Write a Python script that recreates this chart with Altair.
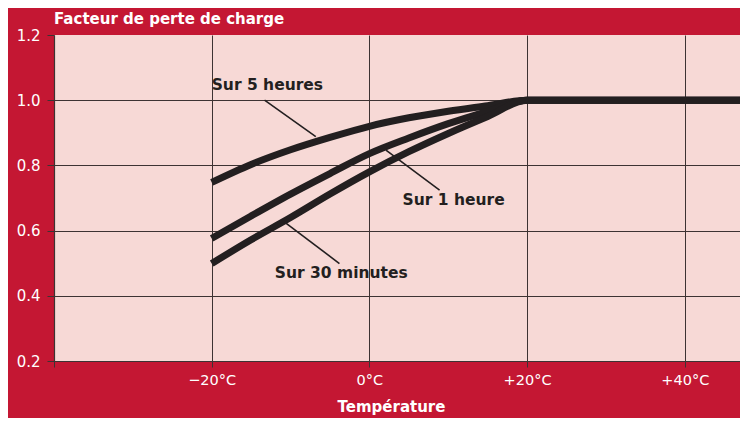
import altair as alt
import pandas as pd

# Data
temps = [-20, -15, -10, -5, 0, 5, 10, 15, 20, 47]
sur_5_heures = [0.748, 0.803, 0.848, 0.886, 0.920, 0.946, 0.966, 0.983, 1.0, 1.0]
sur_1_heure = [0.576, 0.645, 0.712, 0.775, 0.836, 0.884, 0.928, 0.966, 1.0, 1.0]
sur_30_minutes = [0.499, 0.572, 0.640, 0.712, 0.780, 0.842, 0.898, 0.950, 1.0, 1.0]

label_texts = ["Sur 5 heures", "Sur 1 heure", "Sur 30 minutes"]
label_x = [-20.0, 4.2, -12.0]
label_y = [1.046, 0.693, 0.469]

leader_x1 = [-13.3, 2.1, -10.8]
leader_y1 = [1.0, 0.847, 0.627]
leader_x2 = [-6.8, 8.9, -3.8]
leader_y2 = [0.888, 0.724, 0.499]

x_ticks = [-40, -20, 0, 20, 40]
y_ticks = [0.2, 0.4, 0.6, 0.8, 1.0, 1.2]

RED = "#c41733"
PINK = "#f7d9d6"
INK = "#231f20"
GRID = "#3d3333"
FONT = "DejaVu Sans"

rows = []
for name, vals in [("5h", sur_5_heures), ("1h", sur_1_heure), ("30m", sur_30_minutes)]:
    for i, (t, v) in enumerate(zip(temps, vals)):
        rows.append({"serie": name, "t": t, "v": v, "i": i})
df = pd.DataFrame(rows)

labels_df = pd.DataFrame({"txt": label_texts, "x": label_x, "y": label_y})
leaders_df = pd.DataFrame({"x": leader_x1, "y": leader_y1, "x2": leader_x2, "y2": leader_y2})

xscale = alt.Scale(domain=[-40, 47], nice=False, zero=False)
yscale = alt.Scale(domain=[0.2, 1.2], nice=False, zero=False)

xaxis = alt.Axis(
    values=x_ticks,
    labelExpr="datum.value == -40 ? '' : (datum.value > 0 ? '+' + datum.value + '°C' : (datum.value < 0 ? '−' + abs(datum.value) + '°C' : '0°C'))",
    title="Température",
    titleColor="white",
    titleFont=FONT,
    titleFontSize=15,
    titleFontWeight="bold",
    titleX=337,
    titleY=50,
    titleAnchor="middle",
    titleAlign="center",
    titleBaseline="alphabetic",
    labelColor="white",
    labelFont=FONT,
    labelFontSize=14.5,
    labelPadding=6,
    labelFlush=False,
    tickColor=GRID,
    tickSize=6,
    tickWidth=1,
    domainColor=GRID,
    domainWidth=1.2,
    grid=True,
    gridColor=GRID,
    gridWidth=1,
)

yaxis = alt.Axis(
    values=y_ticks,
    format=".1f",
    title=None,
    labelColor="white",
    labelFont=FONT,
    labelFontSize=15,
    labelPadding=7,
    labelFlush=False,
    tickColor=GRID,
    tickSize=7,
    tickWidth=1,
    domainColor=GRID,
    domainWidth=1.2,
    grid=True,
    gridColor=GRID,
    gridWidth=1,
    gridOpacity={"condition": {"test": "datum.value >= 1.19", "value": 0}, "value": 1},
)

base = alt.Chart(df)

lines = base.mark_line(color=INK, strokeWidth=7, interpolate="monotone", clip=True, strokeCap="butt").encode(
    x=alt.X("t:Q", scale=xscale, axis=xaxis),
    y=alt.Y("v:Q", scale=yscale, axis=yaxis),
    detail="serie:N",
    order="i:Q",
)

leaders = alt.Chart(leaders_df).mark_rule(color=INK, strokeWidth=1.6).encode(
    x=alt.X("x:Q", scale=xscale),
    y=alt.Y("y:Q", scale=yscale),
    x2="x2:Q",
    y2="y2:Q",
)

texts = alt.Chart(labels_df).mark_text(
    align="left", baseline="middle", font=FONT, fontSize=15.5, fontWeight="bold", color=INK
).encode(
    x=alt.X("x:Q", scale=xscale),
    y=alt.Y("y:Q", scale=yscale),
    text="txt:N",
)

chart = (
    alt.layer(lines, leaders, texts)
    .properties(
        width=686,
        height=326,
        background=RED,
        autosize=alt.AutoSizeParams(type="none"),
        padding={"left": 46, "top": 27, "right": 0, "bottom": 57},
        title=alt.TitleParams(
            "Facteur de perte de charge",
            anchor="start",
            frame="group",
            color="white",
            font=FONT,
            fontSize=15,
            fontWeight="bold",
            offset=1,
        ),
    )
    .configure_view(fill=PINK, strokeWidth=0)
)

chart.save("out.html", embed_options={"renderer": "svg", "actions": False})
